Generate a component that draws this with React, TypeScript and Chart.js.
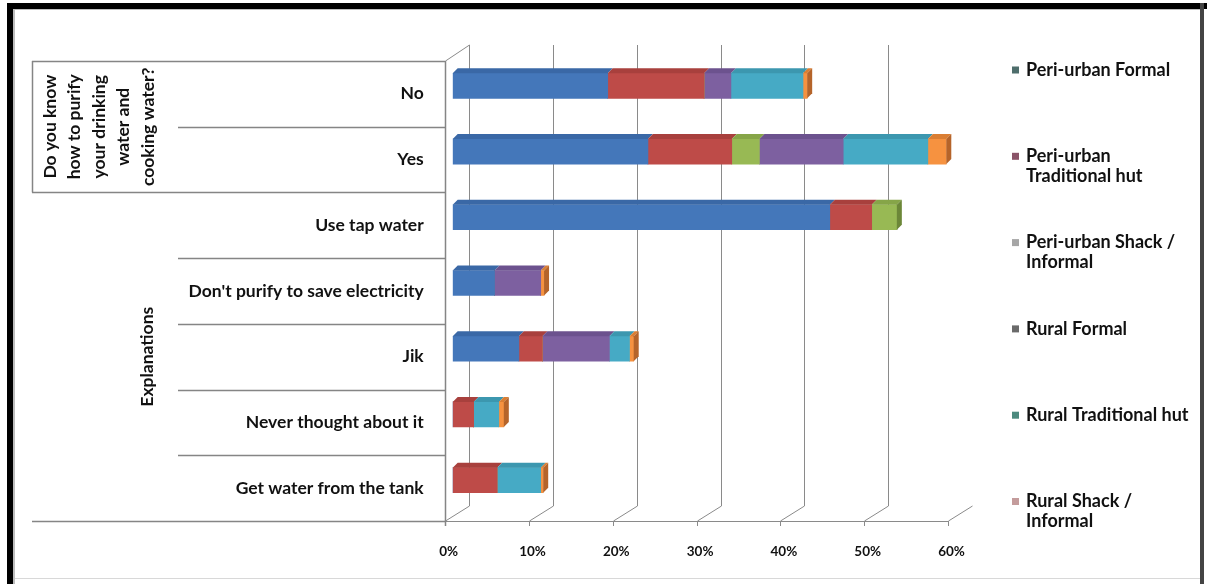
import React, { useEffect, useRef } from "react";
import { Chart, registerables } from "chart.js";

Chart.register(...registerables);

// ---------- data ----------
const categories = [
  "No",
  "Yes",
  "Use tap water",
  "Don't purify to save electricity",
  "Jik",
  "Never thought about it",
  "Get water from the tank",
];

const seriesNames = [
  "Peri-urban Formal",
  "Peri-urban Traditional hut",
  "Peri-urban Shack / Informal",
  "Rural Formal",
  "Rural Traditional hut",
  "Rural Shack / Informal",
];

const periUrbanFormal = [18.5, 23.3, 45.0, 5.0, 7.9, 0, 0];
const periUrbanTraditionalHut = [11.5, 10.0, 5.0, 0, 2.8, 2.5, 5.3];
const periUrbanShackInformal = [0, 3.3, 3.0, 0, 0, 0, 0];
const ruralFormal = [3.2, 10.0, 0, 5.5, 8.0, 0, 0];
const ruralTraditionalHut = [8.6, 10.1, 0, 0, 2.4, 3.0, 5.2];
const ruralShackInformal = [0.5, 2.2, 0, 0.4, 0.5, 0.6, 0.3];

const seriesValues = [
  periUrbanFormal,
  periUrbanTraditionalHut,
  periUrbanShackInformal,
  ruralFormal,
  ruralTraditionalHut,
  ruralShackInformal,
];

const barColors = ["#4477BA", "#BE4B48", "#98B954", "#7D60A0", "#46AAC5", "#F69240"];
const topColors = ["#3A68A6", "#A8403D", "#86A548", "#6C528E", "#3C97AF", "#DA7E33"];
const sideColors = ["#2F5586", "#8A3330", "#6C8738", "#553F72", "#2F7A8E", "#B5642A"];
const legendMarkerColors = ["#4E6E6C", "#8A5468", "#A6A6A6", "#6A6A6A", "#4C8A7E", "#C49C9C"];
const legendLines = [
  ["Peri-urban Formal"],
  ["Peri-urban", "Traditional hut"],
  ["Peri-urban Shack /", "Informal"],
  ["Rural Formal"],
  ["Rural Traditional hut"],
  ["Rural Shack /", "Informal"],
];

const xTickValues = [0, 10, 20, 30, 40, 50, 60];

const groups = [
  { lines: ["Do you know", "how to purify", "your drinking", "water and", "cooking water?"], from: 0, to: 1, boxed: true },
  { lines: ["Explanations"], from: 2, to: 6, boxed: false },
];

// ---------- layout constants ----------
const W = 1207;
const H = 584;
const FONT = "Lato, 'Open Sans', sans-serif";
const LABEL_SHIFT = 8; // 3D: labels/rows sit lower than bar fronts
const DEPTH_BACK_X = 16.5; // back wall offset from bar front
const DEPTH_BACK_Y = -8;
const DEPTH_FRONT_X = -7.5; // floor front edge offset from bar front
const DEPTH_FRONT_Y = 8;
const BAR_DX = 5;
const BAR_DY = 5;

const frame3dPlugin = {
  id: "frame3d",
  beforeDatasetsDraw(chart: any) {
    const { ctx, chartArea } = chart;
    const xs = chart.scales.x;
    const ys = chart.scales.y;
    ctx.save();
    // back wall gridlines + floor diagonals
    const backTop = chartArea.top + DEPTH_BACK_Y;
    const backBottom = chartArea.bottom + DEPTH_BACK_Y + 1;
    const frontBottom = chartArea.bottom + DEPTH_FRONT_Y;
    ctx.strokeStyle = "#8a8a8a";
    ctx.lineWidth = 1;
    xTickValues.forEach((v) => {
      const px = xs.getPixelForValue(v);
      const bx = Math.round(px + DEPTH_BACK_X) + 0.5;
      const fx = Math.round(px + DEPTH_FRONT_X) + 0.5;
      ctx.beginPath();
      if (v !== xTickValues[xTickValues.length - 1]) {
        ctx.moveTo(bx, backTop);
        ctx.lineTo(bx, backBottom);
      } else {
        ctx.moveTo(bx, backBottom);
      }
      ctx.lineTo(fx, frontBottom);
      ctx.lineTo(fx, frontBottom + 5);
      ctx.stroke();
    });
    // front floor edge
    const f0 = Math.round(xs.getPixelForValue(0) + DEPTH_FRONT_X) + 0.5;
    const f1 = Math.round(xs.getPixelForValue(60) + DEPTH_FRONT_X) + 0.5;
    ctx.beginPath();
    ctx.moveTo(f0, frontBottom + 0.5);
    ctx.lineTo(f1, frontBottom + 0.5);
    ctx.stroke();
    // left wall top diagonal
    const b0 = Math.round(xs.getPixelForValue(0) + DEPTH_BACK_X) + 0.5;
    const rowTop = ys.getPixelForValue(0) - (ys.getPixelForValue(1) - ys.getPixelForValue(0)) / 2 + LABEL_SHIFT;
    ctx.beginPath();
    ctx.moveTo(f0, rowTop);
    ctx.lineTo(b0, backTop);
    ctx.stroke();

    // category table lines
    const step = ys.getPixelForValue(1) - ys.getPixelForValue(0);
    const boundary = (i: number) => ys.getPixelForValue(i) - step / 2 + LABEL_SHIFT;
    ctx.strokeStyle = "#858585";
    ctx.lineWidth = 1.5;
    const groupEdges = new Set<number>();
    groups.forEach((g) => {
      groupEdges.add(g.from);
      groupEdges.add(g.to + 1);
    });
    for (let i = 0; i <= categories.length; i++) {
      const y = Math.round(boundary(i)) + 0.5;
      const left = groupEdges.has(i) ? 32 : 178;
      ctx.beginPath();
      ctx.moveTo(left, y);
      ctx.lineTo(f0, y);
      ctx.stroke();
    }
    // axis vertical (front left edge)
    ctx.beginPath();
    ctx.moveTo(f0, boundary(0));
    ctx.lineTo(f0, boundary(categories.length) + 5);
    ctx.stroke();
    // boxed group left edge
    groups.forEach((g) => {
      if (g.boxed) {
        ctx.beginPath();
        ctx.moveTo(32.5, boundary(g.from));
        ctx.lineTo(32.5, boundary(g.to + 1));
        ctx.stroke();
      }
    });

    // group labels (rotated)
    ctx.fillStyle = "#111";
    ctx.font = `bold 17.5px ${FONT}`;
    ctx.textAlign = "center";
    ctx.textBaseline = "middle";
    groups.forEach((g) => {
      const cy = (boundary(g.from) + boundary(g.to + 1)) / 2;
      const cx = g.lines.length > 1 ? 99 : 147;
      const spacing = 24.5;
      ctx.save();
      ctx.translate(cx, cy);
      ctx.rotate(-Math.PI / 2);
      g.lines.forEach((line, i) => {
        ctx.fillText(line, 0, (i - (g.lines.length - 1) / 2) * spacing);
      });
      ctx.restore();
    });
    ctx.restore();
  },
  afterDatasetsDraw(chart: any) {
    const { ctx } = chart;
    ctx.save();
    const n = categories.length;
    for (let i = 0; i < n; i++) {
      let last = -1;
      chart.data.datasets.forEach((ds: any, d: number) => {
        if (ds.data[i] > 0) last = d;
      });
      chart.data.datasets.forEach((ds: any, d: number) => {
        if (!(ds.data[i] > 0)) return;
        const el: any = chart.getDatasetMeta(d).data[i];
        const top = el.y - el.height / 2;
        const bottom = el.y + el.height / 2;
        const x0 = Math.min(el.base, el.x);
        const x1 = Math.max(el.base, el.x);
        ctx.fillStyle = topColors[d];
        ctx.beginPath();
        ctx.moveTo(x0, top);
        ctx.lineTo(x0 + BAR_DX, top - BAR_DY);
        ctx.lineTo(x1 + BAR_DX, top - BAR_DY);
        ctx.lineTo(x1, top);
        ctx.closePath();
        ctx.fill();
        if (d === last) {
          ctx.fillStyle = sideColors[d];
          ctx.beginPath();
          ctx.moveTo(x1, top);
          ctx.lineTo(x1 + BAR_DX, top - BAR_DY);
          ctx.lineTo(x1 + BAR_DX, bottom - BAR_DY);
          ctx.lineTo(x1, bottom);
          ctx.closePath();
          ctx.fill();
        }
      });
    }
    ctx.restore();
  },
  afterDraw(chart: any) {
    const { ctx } = chart;
    ctx.save();
    // legend
    ctx.font = `bold 18px ${FONT}`;
    ctx.textAlign = "left";
    ctx.textBaseline = "middle";
    const firstY = 70;
    const itemGap = 86.3;
    const lineH = 20;
    legendLines.forEach((lines, i) => {
      const y0 = firstY + i * itemGap;
      ctx.fillStyle = legendMarkerColors[i];
      ctx.fillRect(1012, y0 - 3.5, 7, 7);
      ctx.fillStyle = "#111";
      lines.forEach((t, j) => ctx.fillText(t, 1026, y0 + j * lineH));
    });
    // picture frame
    ctx.fillStyle = "#000";
    ctx.fillRect(7, 3, W - 7, 6);
    ctx.fillRect(7, 3, 6, H - 3);
    ctx.fillStyle = "#bdbdbd";
    ctx.fillRect(13, 9, 2, H - 9);
    ctx.fillRect(13, 9, W - 20, 1);
    ctx.fillStyle = "#444";
    ctx.fillRect(1200, 3, 4, H - 3);
    ctx.fillStyle = "#d8d8d8";
    ctx.fillRect(15, 578, 1185, 1);
    ctx.restore();
  },
};

export default function App() {
  const canvasRef = useRef<HTMLCanvasElement | null>(null);

  useEffect(() => {
    const canvas = canvasRef.current;
    if (!canvas) return;
    const barFrontLeft = 452.7;
    const pxPer10 = 83.8;
    const chartRight = barFrontLeft + 6 * pxPer10;
    const catTop = 53;
    const catBottom = 513;

    const chart = new Chart(canvas, {
      type: "bar",
      data: {
        labels: categories,
        datasets: seriesNames.map((name, i) => ({
          label: name,
          data: seriesValues[i],
          backgroundColor: barColors[i],
          borderWidth: 0,
          barThickness: 25,
        })),
      },
      plugins: [frame3dPlugin],
      options: {
        indexAxis: "y",
        animation: false,
        responsive: false,
        devicePixelRatio: 1,
        layout: {
          padding: { left: 0, top: catTop, right: W - chartRight, bottom: 0 },
        },
        plugins: {
          legend: { display: false },
          tooltip: { enabled: false },
          title: { display: false },
        },
        scales: {
          x: {
            type: "linear",
            stacked: true,
            min: 0,
            max: 60,
            grid: { display: false, drawTicks: false },
            border: { display: false },
            afterFit: (s: any) => {
              s.height = H - catBottom;
            },
            afterBuildTicks: (s: any) => {
              s.ticks = xTickValues.map((v) => ({ value: v }));
            },
            ticks: {
              callback: (v: any) => `${v}%`,
              color: "#111",
              font: { family: FONT, size: 13.5, weight: "bold" },
              padding: 31,
              labelOffset: -4,
              maxRotation: 0,
              autoSkip: false,
            },
          },
          y: {
            type: "category",
            stacked: true,
            grid: { display: false, drawTicks: false },
            border: { display: false },
            afterFit: (s: any) => {
              s.width = barFrontLeft;
            },
            ticks: {
              color: "#111",
              font: { family: FONT, size: 17.5, weight: "bold" },
              padding: 29,
              labelOffset: LABEL_SHIFT,
              autoSkip: false,
            },
          },
        },
      } as any,
    });
    return () => chart.destroy();
  }, []);

  return (
    <div style={{ position: "absolute", left: 0, top: 0, width: W, height: H, background: "#fff" }}>
      <canvas ref={canvasRef} width={W} height={H} style={{ display: "block", width: W, height: H }} />
    </div>
  );
}
